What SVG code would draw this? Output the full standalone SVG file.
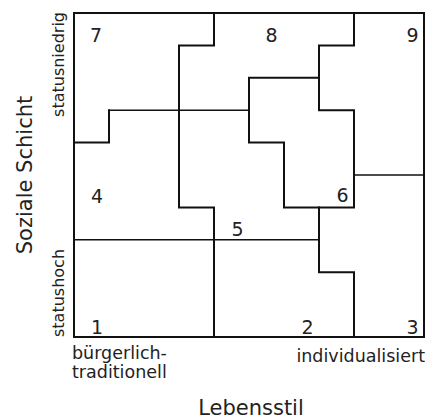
<svg xmlns="http://www.w3.org/2000/svg" width="427" height="419" viewBox="0 0 427 419">
  <style>
    .thick { fill: none; stroke: #111; stroke-width: 2; stroke-linejoin: miter; stroke-linecap: square; }
    .thin { fill: none; stroke: #111; stroke-width: 1.5; }
    text { font-family: "DejaVu Sans", "Verdana", sans-serif; fill: #222; }
    .num { font-size: 19px; text-anchor: middle; }
    .axis { font-size: 21px; }
    .pole { font-size: 17.5px; }
    .status { font-size: 16px; }
  </style>
  <rect width="427" height="419" fill="#fff"/>
  <g id="connectors">
    <rect class="thick" x="74" y="13" width="350" height="324"/>
    <path class="thick" d="M74,142.6 H109 V110.2"/>
    <path class="thin" d="M109,110.2 H249"/>
    <path class="thick" d="M214,13 V45.4 H179 V207.4 H214 V337"/>
    <path class="thick" d="M354,13 V45.4 H319 V110.2 H354 V207.4 H284 V142.6 H249 V77.8 H319"/>
    <path class="thick" d="M319,207.4 V272.2 H354 V337"/>
    <path class="thin" d="M74,239.8 H319"/>
    <path class="thin" d="M354,175 H424"/>
  </g>
  <g id="region-7"><text class="num" x="96" y="42">7</text></g>
  <g id="region-8"><text class="num" x="271.5" y="42">8</text></g>
  <g id="region-9"><text class="num" x="412.5" y="42">9</text></g>
  <g id="region-4"><text class="num" x="97" y="203">4</text></g>
  <g id="region-6"><text class="num" x="342.5" y="202">6</text></g>
  <g id="region-5"><text class="num" x="237.5" y="236">5</text></g>
  <g id="region-1"><text class="num" x="97" y="334">1</text></g>
  <g id="region-2"><text class="num" x="307.5" y="334">2</text></g>
  <g id="region-3"><text class="num" x="412.5" y="334">3</text></g>
  <g id="axis-y">
    <text class="axis" text-anchor="middle" transform="translate(32,175) rotate(-90)">Soziale Schicht</text>
    <text class="status" text-anchor="end" transform="translate(64,12) rotate(-90)">statusniedrig</text>
    <text class="status" text-anchor="start" transform="translate(64,337) rotate(-90)">statushoch</text>
  </g>
  <g id="axis-x">
    <text class="axis" x="251" y="415" text-anchor="middle">Lebensstil</text>
    <text class="pole" x="72" y="359">bürgerlich-</text>
    <text class="pole" x="72" y="378">traditionell</text>
    <text class="pole" x="425" y="362" text-anchor="end">individualisiert</text>
  </g>
</svg>
